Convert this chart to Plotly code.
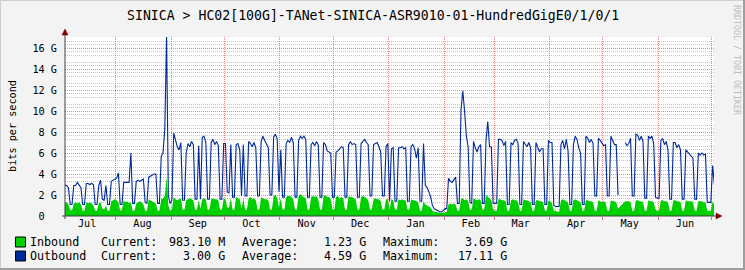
import plotly.graph_objects as go
import pandas as pd

# ---------------- data (Gbit/s, one daily average per day, Mon..Sun per row) -------------
start_date = "2024-07-01 12:00"
outbound = [
    2.9, 2.95, 2.95, 2.9, 2.7, 1.1, 1.1,
    2.9, 2.9, 3.2, 2.9, 2.7, 1.1, 1.1,
    3.1, 3.1, 3.0, 3.1, 3.0, 1.1, 1.1,
    2.9, 3.4, 1.6, 1.5, 2.9, 1.1, 1.1,
    3.3, 3.4, 3.5, 3.6, 4.1, 1.1, 1.1,
    3.2, 3.2, 3.2, 3.2, 6.0, 1.2, 1.2,
    3.3, 3.4, 3.3, 3.4, 3.5, 1.3, 1.2,
    3.7, 3.8, 3.9, 4.0, 4.0, 1.2, 1.2,
    5.7, 6.0, 8.3, 17.11, 1.9, 1.2, 1.5,
    7.9, 7.3, 6.6, 6.3, 7.0, 1.5, 1.5,
    6.0, 6.9, 6.6, 7.1, 6.8, 1.6, 1.6,
    6.7, 1.6, 7.5, 7.6, 7.0, 1.6, 1.6,
    7.0, 7.3, 6.8, 7.1, 6.7, 1.6, 1.6,
    6.9, 6.9, 2.3, 2.2, 6.8, 1.8, 1.8,
    6.8, 6.9, 6.3, 1.9, 6.8, 1.9, 1.9,
    7.1, 6.9, 6.6, 7.0, 6.5, 1.9, 1.9,
    7.1, 7.6, 7.2, 6.8, 6.5, 2.0, 2.0,
    7.5, 7.8, 7.3, 2.3, 6.3, 1.8, 1.8,
    6.9, 7.2, 7.0, 7.5, 7.0, 1.8, 1.8,
    7.2, 7.6, 7.4, 7.6, 7.3, 1.8, 1.8,
    6.8, 7.0, 6.7, 7.1, 6.8, 1.8, 1.8,
    7.0, 6.8, 6.2, 6.1, 6.0, 1.8, 1.8,
    6.1, 6.2, 6.4, 6.6, 6.5, 1.8, 1.8,
    6.8, 7.1, 6.8, 6.9, 6.8, 1.8, 1.8,
    6.9, 7.1, 7.3, 7.0, 6.8, 1.9, 1.9,
    6.8, 6.9, 7.0, 6.6, 6.1, 1.9, 1.9,
    6.6, 6.9, 1.4, 6.4, 6.5, 1.4, 1.4,
    6.5, 6.5, 6.6, 6.4, 6.5, 1.4, 1.4,
    6.6, 6.8, 6.4, 5.5, 6.5, 1.4, 1.4,
    6.9, 2.9, 2.7, 2.3, 1.8, 1.0, 0.7,
    0.6, 0.5, 0.4, 0.4, 0.5, 0.7, 0.7,
    3.6, 3.3, 3.2, 3.4, 3.7, 1.2, 1.2,
    10.1, 11.9, 10.0, 7.6, 6.6, 1.3, 1.2,
    7.1, 6.5, 6.1, 6.6, 6.8, 1.2, 1.2,
    7.2, 9.0, 6.6, 6.6, 1.2, 1.2, 1.2,
    7.3, 7.3, 7.2, 6.7, 7.1, 1.1, 1.1,
    7.0, 6.8, 7.2, 7.3, 6.9, 1.1, 1.1,
    7.1, 6.8, 6.6, 7.0, 6.5, 1.1, 1.1,
    7.0, 6.6, 6.1, 6.4, 6.4, 1.1, 1.1,
    7.2, 7.0, 7.0, 1.0, 0.9, 0.9, 0.9,
    6.8, 7.2, 6.4, 7.3, 6.2, 1.1, 1.1,
    6.8, 7.6, 7.3, 6.5, 6.0, 1.1, 1.1,
    7.6, 7.4, 7.0, 7.3, 6.9, 1.9, 1.9,
    7.4, 7.2, 6.9, 6.7, 6.8, 1.9, 1.9,
    7.6, 7.2, 6.8, 6.8, 2.0, None, None,
    None, 7.0, 6.7, 6.9, 7.4, 1.9, 1.9,
    7.8, 7.7, 7.2, 7.6, 7.1, 1.7, 1.7,
    7.6, 7.4, 7.6, 6.9, 1.8, 1.7, 1.7,
    7.2, 7.4, 6.8, 7.1, 6.3, 1.6, 1.6,
    7.0, 7.0, 6.5, 6.8, 6.3, 1.6, 1.6,
    6.3, 6.1, 6.0, 5.8, 5.5, 1.6, 1.6,
    6.0, 5.8, 6.0, 5.8, 5.9, 1.3, 1.3,
    1.3, 4.8, 3.0,
]
inbound = [
    1.4, 1.3, 1.2, 1.3, 1.1, 0.6, 0.5,
    1.2, 1.3, 1.2, 1.3, 1.1, 0.5, 0.5,
    1.3, 1.2, 1.3, 1.2, 1.0, 0.5, 0.5,
    1.2, 1.3, 0.7, 0.6, 1.0, 0.5, 0.5,
    1.4, 1.5, 1.6, 1.5, 1.3, 0.5, 0.6,
    1.5, 1.3, 1.4, 1.2, 1.3, 0.5, 0.5,
    1.2, 1.3, 1.4, 1.3, 1.1, 0.5, 0.5,
    1.6, 1.5, 1.4, 1.3, 1.2, 0.5, 0.5,
    1.6, 1.7, 1.9, 3.69, 1.0, 0.5, 0.6,
    1.8, 1.6, 1.5, 1.6, 1.7, 0.6, 0.6,
    1.5, 1.6, 1.7, 1.6, 1.5, 0.6, 0.6,
    1.5, 0.7, 1.6, 1.7, 1.6, 0.6, 0.6,
    1.6, 1.7, 1.6, 1.6, 1.5, 0.6, 0.6,
    1.7, 1.6, 0.8, 0.8, 1.7, 0.6, 0.6,
    1.8, 1.7, 1.6, 0.7, 1.7, 0.6, 0.6,
    1.7, 1.8, 1.6, 1.7, 1.5, 0.6, 0.6,
    1.8, 1.7, 1.6, 1.6, 1.5, 0.6, 0.6,
    1.9, 2.0, 1.7, 0.8, 1.7, 0.6, 0.6,
    1.8, 1.9, 1.9, 1.8, 1.6, 0.6, 0.6,
    1.9, 2.1, 1.9, 1.8, 1.7, 0.6, 0.6,
    1.8, 1.9, 1.8, 1.9, 1.6, 0.6, 0.6,
    1.9, 2.0, 1.8, 1.8, 1.6, 0.6, 0.6,
    1.8, 1.9, 1.7, 1.8, 1.7, 0.6, 0.6,
    1.9, 1.8, 1.8, 1.7, 1.6, 0.6, 0.6,
    1.8, 1.9, 1.8, 1.7, 1.5, 0.6, 0.6,
    1.6, 1.7, 1.6, 1.6, 1.4, 0.6, 0.6,
    1.6, 1.6, 0.6, 1.6, 1.5, 0.6, 0.6,
    1.6, 1.5, 1.6, 1.5, 1.5, 0.6, 0.6,
    1.6, 1.5, 1.5, 1.4, 1.3, 0.5, 0.5,
    1.4, 1.1, 1.0, 0.9, 0.8, 0.5, 0.4,
    0.4, 0.3, 0.3, 0.3, 0.3, 0.3, 0.4,
    1.1, 1.2, 1.1, 1.2, 1.1, 0.5, 0.5,
    1.6, 1.7, 1.5, 1.6, 1.4, 0.6, 0.6,
    1.7, 1.6, 1.5, 1.6, 1.5, 0.6, 0.6,
    2.0, 1.8, 1.6, 1.5, 0.6, 0.5, 0.5,
    1.6, 1.6, 1.5, 1.5, 1.4, 0.5, 0.5,
    1.5, 1.6, 1.5, 1.5, 1.3, 0.5, 0.5,
    1.6, 1.5, 1.5, 1.4, 1.3, 0.5, 0.5,
    1.5, 1.5, 1.4, 1.4, 1.3, 0.5, 0.5,
    1.5, 1.4, 1.2, 0.5, 0.5, 0.4, 0.4,
    1.5, 1.6, 1.5, 1.4, 1.3, 0.5, 0.5,
    1.5, 1.6, 1.5, 1.4, 1.3, 0.5, 0.5,
    1.5, 1.5, 1.4, 1.4, 1.3, 0.5, 0.5,
    1.5, 1.4, 1.3, 1.4, 1.3, 0.5, 0.5,
    1.5, 1.4, 1.4, 1.3, 0.7, None, None,
    None, 1.4, 1.4, 1.4, 1.3, 0.5, 0.5,
    1.5, 1.5, 1.4, 1.4, 1.3, 0.5, 0.5,
    1.5, 1.4, 1.4, 1.3, 0.6, 0.5, 0.5,
    1.5, 1.5, 1.4, 1.4, 1.3, 0.5, 0.5,
    1.5, 1.5, 1.4, 1.4, 1.3, 0.5, 0.5,
    1.5, 1.4, 1.4, 1.4, 1.3, 0.5, 0.5,
    1.4, 1.4, 1.4, 1.3, 1.3, 0.5, 0.5,
    0.5, 1.4, 0.98,
]
month_starts = ["2024-08-01", "2024-09-01", "2024-10-01", "2024-11-01", "2024-12-01",
                "2025-01-01", "2025-02-01", "2025-03-01", "2025-04-01", "2025-05-01",
                "2025-06-01", "2025-07-01"]
month_label_dates = ["2024-07-16", "2024-08-16", "2024-09-16", "2024-10-16", "2024-11-16",
                     "2024-12-16", "2025-01-16", "2025-02-16", "2025-03-16", "2025-04-16",
                     "2025-05-16", "2025-06-16"]
month_labels = ["Jul", "Aug", "Sep", "Oct", "Nov", "Dec", "Jan", "Feb", "Mar", "Apr", "May", "Jun"]
y_tick_values = [0, 2, 4, 6, 8, 10, 12, 14, 16]
y_tick_labels = ["0\u00a0\u00a0", "2 G", "4 G", "6 G", "8 G", "10 G", "12 G", "14 G", "16 G"]
title_text = "SINICA > HC02[100G]-TANet-SINICA-ASR9010-01-HundredGigE0/1/0/1"
y_title = "bits per second"
legend_rows = [
    ("Inbound", "983.10 M", "1.23 G", "3.69 G"),
    ("Outbound", "3.00 G", "4.59 G", "17.11 G"),
]
x_range = ["2024-07-03 13:50", "2025-07-02 06:45"]
y_max = 17.05

dates = pd.date_range(start_date, periods=len(outbound), freq="D")

# ---------------- layout geometry -------------
W, H = 745, 270
L, R, T, B = 65, 31, 37, 54
PW, PH = W - L - R, H - T - B

def fx(x):
    return (x - L) / PW

def fy(y):
    return (H - B - y) / PH

MONO = "DejaVu Sans Mono"
GREEN = "#00CF00"
BLUE = "#002A97"
MGRID = "rgba(255,0,0,0.5)"
GRID = "rgba(128,128,128,0.45)"

fig = go.Figure()
fig.add_trace(go.Scatter(
    x=dates, y=inbound, mode="lines", name="Inbound",
    line=dict(width=0, color=GREEN),
    fill="tozeroy", fillcolor=GREEN, connectgaps=False, hoverinfo="skip"))
fig.add_trace(go.Scatter(
    x=dates, y=outbound, mode="lines", name="Outbound",
    line=dict(width=1.1, color=BLUE), connectgaps=False, hoverinfo="skip"))

minor_vals = [v / 3 for v in range(0, 52) if v % 3 != 0]

fig.update_layout(
    width=W, height=H, autosize=False,
    margin=dict(l=L, r=R, t=T, b=B, pad=0),
    paper_bgcolor="#F3F3F3", plot_bgcolor="#FFFFFF",
    showlegend=False,
    font=dict(family=MONO, size=10, color="#000000"),
    xaxis=dict(
        type="date", range=x_range, tickmode="array",
        tickvals=month_label_dates, ticktext=month_labels,
        showgrid=False, ticks="", zeroline=False, showline=False,
        minor=dict(tickmode="array", tickvals=month_starts, showgrid=True,
                   gridcolor=MGRID, griddash="1px,1px", gridwidth=1,
                   ticks="outside", ticklen=3, tickcolor="#C08080"),
        tickfont=dict(family=MONO, size=10.2, color="#000000"),
    ),
    yaxis=dict(
        range=[0, y_max], tickmode="array", tickvals=y_tick_values, ticktext=y_tick_labels,
        showgrid=True, gridcolor=MGRID, griddash="1px,1px", gridwidth=1,
        minor=dict(tickmode="array", tickvals=minor_vals, showgrid=True,
                   gridcolor=GRID, griddash="1px,1px", ticks=""),
        ticks="outside", ticklen=5, tickcolor="rgba(0,0,0,0)",
        zeroline=False, showline=False,
        tickfont=dict(family=MONO, size=10.2, color="#000000"),
    ),
)

shapes = []
AX = "#404040"
ARROW = "#7F0000"
shapes.append(dict(type="line", xref="paper", yref="paper", x0=fx(62), x1=fx(717), y0=0, y1=0,
                   line=dict(color=AX, width=1)))
shapes.append(dict(type="line", xref="paper", yref="paper", x0=0, x1=0, y0=fy(219), y1=fy(34),
                   line=dict(color=AX, width=1)))
shapes.append(dict(type="path", xref="paper", yref="paper",
                   path=f"M {fx(722)} {fy(216)} L {fx(716)} {fy(213)} L {fx(716)} {fy(219)} Z",
                   fillcolor=ARROW, line=dict(color=ARROW, width=0.5)))
shapes.append(dict(type="path", xref="paper", yref="paper",
                   path=f"M {fx(65)} {fy(29)} L {fx(62)} {fy(35)} L {fx(68)} {fy(35)} Z",
                   fillcolor=ARROW, line=dict(color=ARROW, width=0.5)))
shapes.append(dict(type="line", xref="paper", yref="paper", x0=fx(0.5), x1=fx(744.5), y0=fy(0.5), y1=fy(0.5),
                   line=dict(color="#CFCFCF", width=1)))
shapes.append(dict(type="line", xref="paper", yref="paper", x0=fx(0.5), x1=fx(0.5), y0=fy(0.5), y1=fy(269.5),
                   line=dict(color="#CFCFCF", width=1)))
shapes.append(dict(type="line", xref="paper", yref="paper", x0=fx(744), x1=fx(744), y0=fy(0), y1=fy(270),
                   line=dict(color="#9E9E9E", width=2)))
shapes.append(dict(type="line", xref="paper", yref="paper", x0=fx(0), x1=fx(745), y0=fy(269), y1=fy(269),
                   line=dict(color="#9E9E9E", width=2)))
for i, col in enumerate([GREEN, BLUE]):
    yc = 242 + 14 * i
    shapes.append(dict(type="rect", xref="paper", yref="paper",
                       x0=fx(15.5), x1=fx(25.5), y0=fy(yc - 5), y1=fy(yc + 5),
                       fillcolor=col, line=dict(color="#000000", width=1)))

annotations = []
annotations.append(dict(text=title_text, xref="paper", yref="paper", x=fx(372.5), y=fy(15),
                        xanchor="center", yanchor="middle", showarrow=False,
                        font=dict(family=MONO, size=13.2, color="#000000")))
annotations.append(dict(text=y_title, xref="paper", yref="paper", x=fx(12), y=fy(126),
                        xanchor="center", yanchor="middle", showarrow=False, textangle=-90,
                        font=dict(family=MONO, size=10.2, color="#000000")))
annotations.append(dict(text="RRDTOOL / TOBI OETIKER", xref="paper", yref="paper", x=fx(737), y=fy(60),
                        xanchor="center", yanchor="middle", showarrow=False, textangle=90,
                        font=dict(family=MONO, size=8.3, color="#BDBDBD")))

CW = 7.05
LX = 29
def cx(c):
    return fx(LX + CW * c)

for i, (name, cur, avg, mx) in enumerate(legend_rows):
    yc = fy(242 + 14 * i)
    items = [(name, 0, "left"), ("Current:", 10, "left"), (cur, 28, "right"),
             ("Average:", 30, "left"), (avg, 48, "right"),
             ("Maximum:", 50, "left"), (mx, 68, "right")]
    for txt, col, anc in items:
        annotations.append(dict(text=txt, xref="paper", yref="paper", x=cx(col), y=yc,
                                xanchor=anc, yanchor="middle", showarrow=False, borderpad=0,
                                font=dict(family=MONO, size=11.7, color="#000000")))

fig.update_layout(shapes=shapes, annotations=annotations)
fig.write_html("out.html")
